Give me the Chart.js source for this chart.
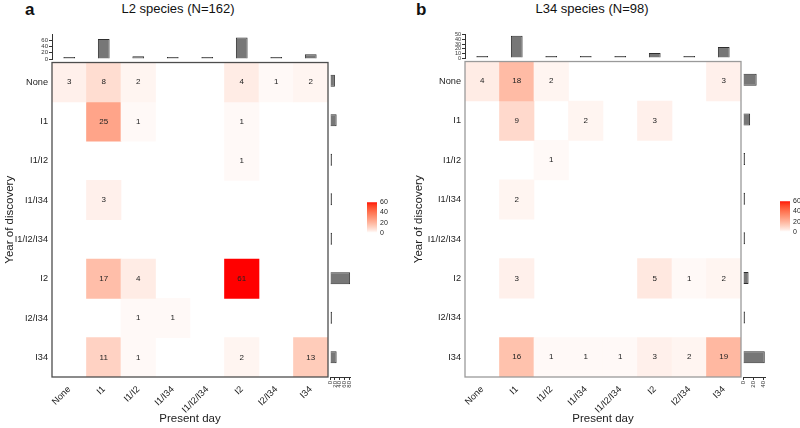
<!DOCTYPE html>
<html>
<head>
<meta charset="utf-8">
<script src="https://cdn.jsdelivr.net/npm/chart.js@4.4.1/dist/chart.umd.min.js"></script>
<style>
  body { margin: 0; background: #fff; font-family: 'Liberation Sans', Arial, sans-serif; }
  #wrap { position: relative; width: 800px; height: 428px; overflow: hidden; }
  #wrap canvas { position: absolute; }
  .lbl { position: absolute; white-space: nowrap; color: #111; }
</style>
</head>
<body>
<div id="wrap">
  <div class="lbl" style="left:25px;top:0px;font-size:17px;font-weight:bold">a</div>
  <div class="lbl" style="left:178px;top:1px;font-size:13px;transform:translateX(-50%)">L2 species (N=162)</div>
  <div class="lbl" style="left:416px;top:0px;font-size:17px;font-weight:bold">b</div>
  <div class="lbl" style="left:592px;top:1px;font-size:13px;transform:translateX(-50%)">L34 species (N=98)</div>
</div>
<script>
const categories = ['None', 'I1', 'I1/I2', 'I1/I34', 'I1/I2/I34', 'I2', 'I2/I34', 'I34'];

// rows: year of discovery, columns: present day
const l2Counts = [
  [3, 8, 2, 0, 0, 4, 1, 2],
  [0, 25, 1, 0, 0, 1, 0, 0],
  [0, 0, 0, 0, 0, 1, 0, 0],
  [0, 3, 0, 0, 0, 0, 0, 0],
  [0, 0, 0, 0, 0, 0, 0, 0],
  [0, 17, 4, 0, 0, 61, 0, 0],
  [0, 0, 1, 1, 0, 0, 0, 0],
  [0, 11, 1, 0, 0, 2, 0, 13]
];
const l34Counts = [
  [4, 18, 2, 0, 0, 0, 0, 3],
  [0, 9, 0, 2, 0, 3, 0, 0],
  [0, 0, 1, 0, 0, 0, 0, 0],
  [0, 2, 0, 0, 0, 0, 0, 0],
  [0, 0, 0, 0, 0, 0, 0, 0],
  [0, 3, 0, 0, 0, 5, 1, 2],
  [0, 0, 0, 0, 0, 0, 0, 0],
  [0, 16, 1, 1, 1, 3, 2, 19]
];

const topTicksL2 = [0, 20, 40, 60];
const topTicksL34 = [0, 10, 20, 30, 40, 50];
const sideTicksL2 = [0, 20, 40, 60, 80];
const sideTicksL34 = [0, 20, 40];
const legendTicks = [0, 20, 40, 60];
const colourMax = 61;

Chart.defaults.font.family = "'Liberation Sans', Arial, sans-serif";
Chart.defaults.font.size = 9.2;
Chart.defaults.color = '#222';

const wrap = document.getElementById('wrap');
const barFill = '#777777';
const barEdge = '#2e2e2e';

function addCanvas(left, top, w, h) {
  const c = document.createElement('canvas');
  c.width = w; c.height = h;
  c.style.left = left + 'px'; c.style.top = top + 'px';
  c.style.width = w + 'px'; c.style.height = h + 'px';
  wrap.appendChild(c);
  return c;
}

// white -> red, interpolated in CIE Lab
function heatColour(v) {
  if (!v) return 'rgba(0,0,0,0)';
  const t = Math.pow(Math.min(v / colourMax, 1), 0.85);
  const L = 100 + (53.24 - 100) * t, A = 80.09 * t, B = 67.2 * t;
  const fy = (L + 16) / 116, fx = fy + A / 500, fz = fy - B / 200;
  const f = u => u > 0.206893 ? u * u * u : (u - 16 / 116) / 7.787;
  const X = 0.95047 * f(fx), Y = f(fy), Z = 1.08883 * f(fz);
  const lin = [3.2406 * X - 1.5372 * Y - 0.4986 * Z,
               -0.9689 * X + 1.8758 * Y + 0.0415 * Z,
               0.0557 * X - 0.204 * Y + 1.057 * Z];
  const rgb = lin.map(c => {
    c = Math.max(0, Math.min(1, c));
    return Math.round(255 * (c <= 0.0031308 ? 12.92 * c : 1.055 * Math.pow(c, 1 / 2.4) - 0.055));
  });
  return 'rgb(' + rgb.join(',') + ')';
}

const cellText = {
  id: 'cellText',
  afterDatasetsDraw(chart, args, opts) {
    const ctx = chart.ctx;
    ctx.save();
    ctx.font = "8px 'Liberation Sans', Arial, sans-serif";
    ctx.fillStyle = '#222';
    ctx.textAlign = 'center';
    ctx.textBaseline = 'middle';
    chart.data.datasets.forEach((ds, r) => {
      chart.getDatasetMeta(r).data.forEach((el, j) => {
        const v = ds.counts[j];
        if (!v) return;
        ctx.fillText(String(v), el.x, (el.y + el.base) / 2);
      });
    });
    const a = chart.chartArea;
    ctx.strokeStyle = opts.colour;
    ctx.lineWidth = 1.3;
    ctx.strokeRect(a.left, a.top, a.right - a.left, a.bottom - a.top);
    ctx.restore();
  }
};

function buildPanel(p) {
  const counts = p.counts;
  const rowTotals = counts.map(row => row.reduce((s, v) => s + v, 0));
  const colTotals = categories.map((c, j) => counts.reduce((s, row) => s + row[j], 0));
  const h = p.heat;
  const hw = h.r - h.l, hh = h.b - h.t;

  // heatmap
  const padTop = 8, xAxisH = 428 - h.b;
  const hc = addCanvas(h.l - p.yAxisW, h.t - padTop, p.yAxisW + hw + 6, padTop + hh + xAxisH);
  new Chart(hc, {
    type: 'bar',
    data: {
      labels: categories,
      datasets: counts.map((row, r) => ({
        counts: row,
        data: row.map(v => v > 0 ? [r, r + 1] : null),
        backgroundColor: row.map(heatColour),
        borderWidth: 0,
        grouped: false,
        barPercentage: 1,
        categoryPercentage: 1
      }))
    },
    options: {
      responsive: false, animation: false, events: [],
      layout: { padding: { top: padTop, right: 6, left: 0, bottom: 0 } },
      plugins: { legend: { display: false }, tooltip: { enabled: false }, cellText: { colour: p.frame } },
      scales: {
        x: {
          type: 'category', offset: true,
          grid: { display: false, drawTicks: false }, border: { display: false },
          ticks: { autoSkip: false, minRotation: 45, maxRotation: 45, padding: 7 },
          title: { display: true, text: 'Present day', font: { size: 11.5 }, padding: { top: 0, bottom: 2 } },
          afterFit: s => { s.height = xAxisH; }
        },
        y: {
          type: 'linear', min: 0, max: categories.length, reverse: true,
          grid: { display: false, drawTicks: false }, border: { display: false },
          afterBuildTicks: s => { s.ticks = categories.map((c, i) => ({ value: i + 0.5 })); },
          ticks: { autoSkip: false, padding: 4, callback: v => categories[Math.floor(v)] },
          title: { display: true, text: 'Year of discovery', font: { size: 11.5 }, padding: { top: p.yTitlePad, bottom: 0 } },
          afterFit: s => { s.width = p.yAxisW; }
        }
      }
    },
    plugins: [cellText]
  });

  // column totals on top
  const topBase = h.t - 2, topTop = 34;
  const tc = addCanvas(h.l - p.yAxisW, topTop - 6, p.yAxisW + hw, (topBase - topTop) + 12);
  new Chart(tc, {
    type: 'bar',
    data: {
      labels: categories,
      datasets: [{ data: colTotals, backgroundColor: barFill, borderColor: barEdge, borderWidth: 1,
                   barPercentage: 0.34, categoryPercentage: 1, minBarLength: 2 }]
    },
    options: {
      responsive: false, animation: false, events: [],
      layout: { padding: { top: 6, bottom: 6, left: 0, right: 0 } },
      plugins: { legend: { display: false }, tooltip: { enabled: false } },
      scales: {
        x: { display: false, offset: true },
        y: {
          min: 0, max: p.topMax,
          border: { display: true, color: '#333', width: 1 },
          grid: { display: true, drawOnChartArea: false, tickLength: 3, color: '#333' },
          afterBuildTicks: s => { s.ticks = p.topTicks.map(v => ({ value: v })); },
          ticks: { autoSkip: false, font: { size: p.topFont }, padding: 1, color: '#333' },
          afterFit: s => { s.width = p.yAxisW; }
        }
      }
    }
  });

  // row totals on the right
  const sideAxisH = 16;
  const sc = addCanvas(p.side.l - 6, h.t - 6, p.side.w + 12, 6 + hh + sideAxisH);
  new Chart(sc, {
    type: 'bar',
    data: {
      labels: categories,
      datasets: [{ data: rowTotals, backgroundColor: barFill, borderColor: barEdge, borderWidth: 1,
                   barPercentage: 0.3, categoryPercentage: 1, minBarLength: 2 }]
    },
    options: {
      indexAxis: 'y',
      responsive: false, animation: false, events: [],
      layout: { padding: { top: 6, bottom: 0, left: 6, right: 6 } },
      plugins: { legend: { display: false }, tooltip: { enabled: false } },
      scales: {
        y: { display: false, offset: true },
        x: {
          min: 0, max: p.sideMax, position: 'bottom',
          border: { display: true, color: '#333', width: 1 },
          grid: { display: true, drawOnChartArea: false, tickLength: 3, color: '#333' },
          afterBuildTicks: s => { s.ticks = p.sideTicks.map(v => ({ value: v })); },
          ticks: { autoSkip: false, font: { size: 6 }, padding: 1, minRotation: 90, maxRotation: 90, color: '#333' },
          afterFit: s => { s.height = sideAxisH; }
        }
      }
    }
  });

  // colour legend
  const lg = p.legend;
  const lc = addCanvas(lg.l, lg.t - 6, lg.w + 16, lg.h + 12);
  new Chart(lc, {
    type: 'bar',
    data: {
      labels: [''],
      datasets: [{
        data: [[legendTicks[0], legendTicks[legendTicks.length - 1]]],
        borderWidth: 0, barPercentage: 1, categoryPercentage: 1,
        backgroundColor: ctx => {
          const a = ctx.chart.chartArea;
          if (!a) return 'rgba(0,0,0,0)';
          const g = ctx.chart.ctx.createLinearGradient(0, a.bottom, 0, a.top);
          for (let i = 0; i <= 12; i++) g.addColorStop(i / 12, heatColour(Math.max(0.01, i * 5)));
          return g;
        }
      }]
    },
    options: {
      responsive: false, animation: false, events: [],
      layout: { padding: { top: 6, bottom: 6, left: 0, right: 0 } },
      plugins: { legend: { display: false }, tooltip: { enabled: false } },
      scales: {
        x: { display: false, offset: true },
        y: {
          position: 'right', min: legendTicks[0], max: legendTicks[legendTicks.length - 1],
          grid: { display: false, drawTicks: false }, border: { display: false },
          afterBuildTicks: s => { s.ticks = legendTicks.map(v => ({ value: v })); },
          ticks: { autoSkip: false, font: { size: 7 }, padding: 3, color: '#222' },
          afterFit: s => { s.width = 16; }
        }
      }
    }
  });
}

buildPanel({
  counts: l2Counts,
  heat: { l: 52, t: 61, r: 328, b: 377 },
  yAxisW: 52, yTitlePad: 3,
  frame: '#4d4d4d',
  topMax: 80, topTicks: topTicksL2, topFont: 6,
  side: { l: 330, w: 22 }, sideMax: 82, sideTicks: sideTicksL2,
  legend: { l: 367, t: 201, w: 10, h: 33 }
});

buildPanel({
  counts: l34Counts,
  heat: { l: 465, t: 60, r: 741, b: 377 },
  yAxisW: 56, yTitlePad: 3,
  frame: '#9a9a9a',
  topMax: 52, topTicks: topTicksL34, topFont: 5.5,
  side: { l: 743, w: 23 }, sideMax: 44, sideTicks: sideTicksL34,
  legend: { l: 780, t: 200, w: 10, h: 33 }
});
</script>
</body>
</html>
